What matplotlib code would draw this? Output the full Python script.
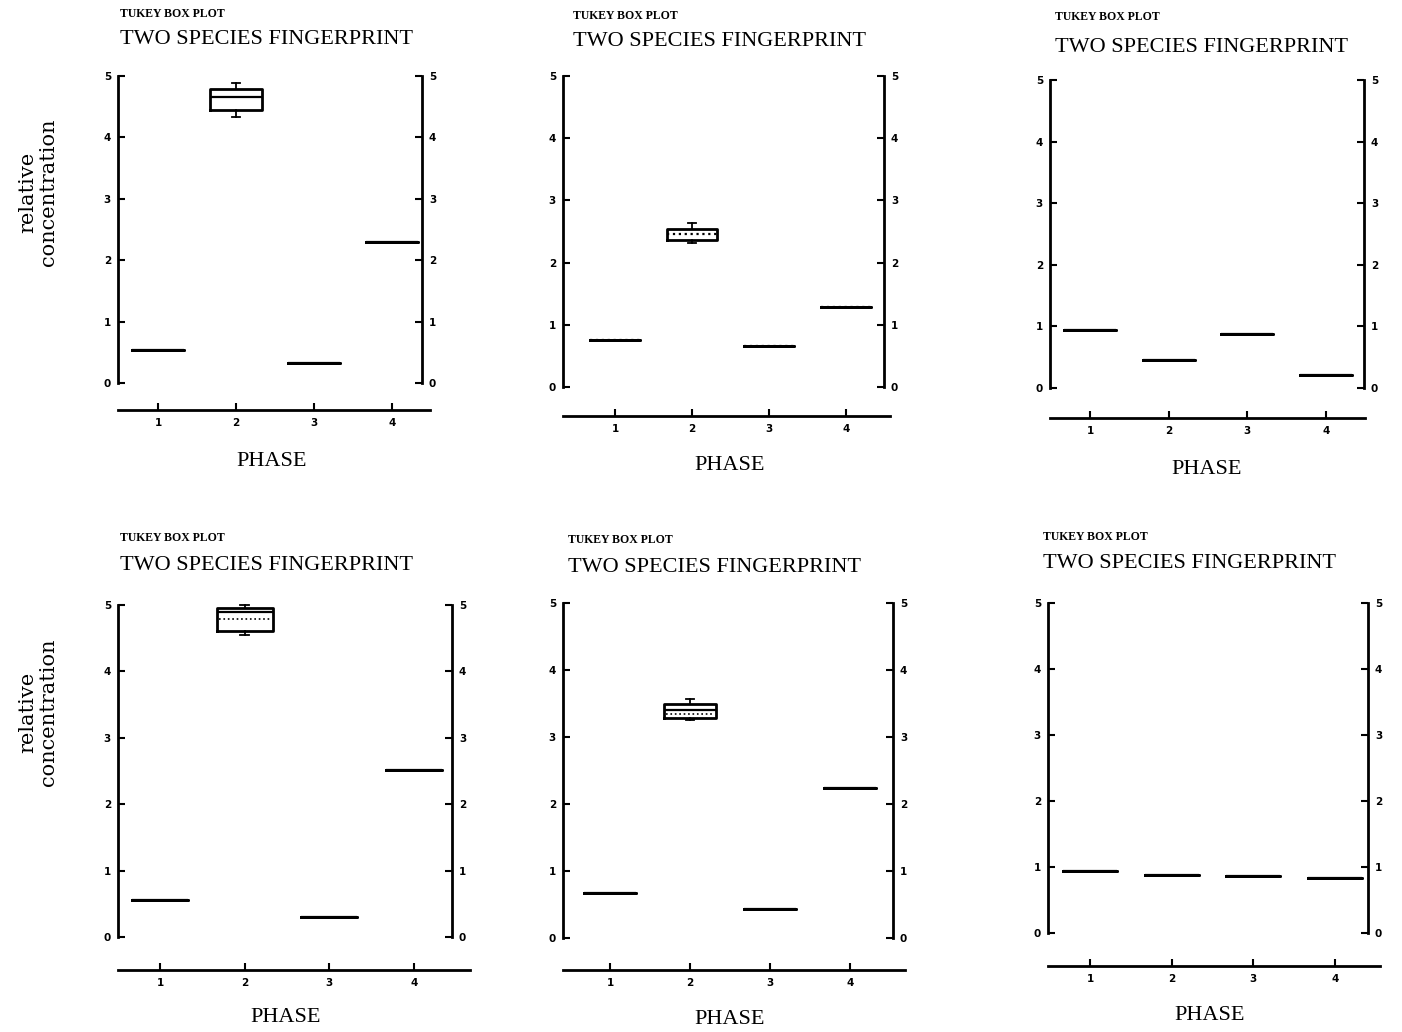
import matplotlib
matplotlib.use("Agg")
import matplotlib.pyplot as plt

# values (phase 1..4)
phases = [1, 2, 3, 4]
medians = [
    [0.54, 4.65, 0.33, 2.30],
    [0.76, 2.46, 0.66, 1.29],
    [0.94, 0.45, 0.88, 0.21],
    [0.55, 4.89, 0.30, 2.51],
    [0.67, 3.41, 0.43, 2.24],
    [0.94, 0.88, 0.87, 0.83],
]
q1s = [
    [0.54, 4.45, 0.33, 2.30],
    [0.76, 2.36, 0.66, 1.29],
    [0.94, 0.45, 0.88, 0.21],
    [0.55, 4.61, 0.30, 2.51],
    [0.67, 3.28, 0.43, 2.24],
    [0.94, 0.88, 0.87, 0.83],
]
q3s = [
    [0.54, 4.79, 0.33, 2.30],
    [0.76, 2.54, 0.66, 1.29],
    [0.94, 0.45, 0.88, 0.21],
    [0.55, 4.95, 0.30, 2.51],
    [0.67, 3.50, 0.43, 2.24],
    [0.94, 0.88, 0.87, 0.83],
]
whis_lo = [
    [0.54, 4.33, 0.33, 2.30],
    [0.76, 2.31, 0.66, 1.29],
    [0.94, 0.45, 0.88, 0.21],
    [0.55, 4.55, 0.30, 2.51],
    [0.67, 3.25, 0.43, 2.24],
    [0.94, 0.88, 0.87, 0.83],
]
whis_hi = [
    [0.54, 4.89, 0.33, 2.30],
    [0.76, 2.64, 0.66, 1.29],
    [0.94, 0.45, 0.88, 0.21],
    [0.55, 5.00, 0.30, 2.51],
    [0.67, 3.57, 0.43, 2.24],
    [0.94, 0.88, 0.87, 0.83],
]
# dotted mean lines inside boxes (None = none drawn)
means = [
    [None, None, None, None],
    [None, None, None, None],
    [None, None, None, None],
    [None, 4.79, None, None],
    [None, 3.35, None, None],
    [None, None, None, None],
]
yticks = [0, 1, 2, 3, 4, 5]

W, H = 1402, 1032

# pixel layout of each panel:
# left spine, right spine, x-axis end, tick1 px, px per phase, y=5 px, y=0 px, x-axis px
layout = [
    dict(l=118, r=422, xe=430, t1=158, s=78.0, y5=76, y0=383, xa=410,
         tx=120, ty1=14, ty2=40, px=272, py=461, mstyle='-'),
    dict(l=563, r=884, xe=890, t1=615, s=77.0, y5=76, y0=387, xa=416,
         tx=573, ty1=16, ty2=42, px=730, py=465, mstyle=':'),
    dict(l=1050, r=1364, xe=1365, t1=1090, s=78.7, y5=80, y0=388, xa=418,
         tx=1055, ty1=17, ty2=47, px=1207, py=470, mstyle='-'),
    dict(l=118, r=452, xe=470, t1=160, s=84.7, y5=605, y0=937, xa=970,
         tx=120, ty1=538, ty2=566, px=286, py=1018, mstyle='-'),
    dict(l=563, r=893, xe=905, t1=610, s=80.0, y5=603, y0=938, xa=970,
         tx=568, ty1=540, ty2=568, px=730, py=1020, mstyle='-'),
    dict(l=1048, r=1368, xe=1380, t1=1090, s=81.7, y5=603, y0=933, xa=966,
         tx=1043, ty1=537, ty2=564, px=1210, py=1016, mstyle='-'),
]

fig = plt.figure(figsize=(W / 100, H / 100), dpi=100)

for i, lay in enumerate(layout):
    k = (lay['y0'] - lay['y5']) / 5.0
    xlo = 1 + (lay['l'] - lay['t1']) / lay['s']
    xend = 1 + (lay['xe'] - lay['t1']) / lay['s']
    xr = 1 + (lay['r'] - lay['t1']) / lay['s']
    xhi = max(xend, xr) + 0.03
    ybot = -(lay['xa'] - lay['y0']) / k
    ylo, yhi = ybot - 0.03, 5.06

    left_px = lay['l']
    right_px = lay['t1'] + (xhi - 1) * lay['s']
    top_px = lay['y0'] - yhi * k
    bot_px = lay['y0'] - ylo * k
    ax = fig.add_axes([left_px / W, 1 - bot_px / H,
                       (right_px - left_px) / W, (bot_px - top_px) / H])
    ax.set_xlim(xlo, xhi)
    ax.set_ylim(ylo, yhi)

    stats = []
    for j in range(4):
        stats.append(dict(med=medians[i][j], q1=q1s[i][j], q3=q3s[i][j],
                          whislo=whis_lo[i][j], whishi=whis_hi[i][j], fliers=[]))
    ax.bxp(stats, positions=phases, widths=0.66, capwidths=0.1,
           boxprops=dict(color='black', linewidth=2.0),
           medianprops=dict(color='black', linewidth=1.6, linestyle=lay['mstyle']),
           whiskerprops=dict(color='black', linewidth=1.3),
           capprops=dict(color='black', linewidth=1.3),
           showfliers=False)
    for j in range(4):
        if means[i][j] is not None:
            ax.hlines(means[i][j], phases[j] - 0.3, phases[j] + 0.3,
                      colors='black', linestyles=':', linewidth=1.2)

    for side in ['left', 'right', 'bottom']:
        ax.spines[side].set_linewidth(2.0)
    ax.spines['top'].set_visible(False)
    ax.spines['left'].set_bounds(0, 5)
    ax.spines['right'].set_bounds(0, 5)
    ax.spines['right'].set_position(('data', xr))
    ax.spines['bottom'].set_position(('data', ybot))
    ax.spines['bottom'].set_bounds(xlo, xend)

    ax.set_yticks(yticks)
    ax.set_yticklabels([str(v) for v in yticks])
    ax.set_xticks(phases)
    ax.set_xticklabels([str(p) for p in phases])
    ax.tick_params(axis='y', left=True, right=True, labelleft=True, labelright=True,
                   direction='in', length=5, width=1.5, pad=5, labelsize=7.5)
    ax.tick_params(axis='x', direction='in', length=5, width=1.5, pad=6, labelsize=7.5)
    for lab in ax.get_xticklabels() + ax.get_yticklabels():
        lab.set_fontweight('bold')
    ax.set_facecolor('none')

    fig.text(lay['tx'] / W, 1 - lay['ty1'] / H, 'TUKEY BOX PLOT',
             family='Liberation Serif', fontweight='bold', fontsize=8.5,
             ha='left', va='center')
    fig.text(lay['tx'] / W, 1 - lay['ty2'] / H, 'TWO SPECIES FINGERPRINT',
             family='Liberation Serif', fontsize=16, ha='left', va='center')
    fig.text(lay['px'] / W, 1 - lay['py'] / H, 'PHASE',
             family='Liberation Serif', fontsize=16, ha='center', va='center')

for yc in [192, 712]:
    fig.text(38 / W, 1 - yc / H, 'relative\nconcentration',
             family='DejaVu Serif', fontsize=15, rotation=90,
             ha='center', va='center', multialignment='center', linespacing=1.1)

fig.savefig('out.png', dpi=100)
